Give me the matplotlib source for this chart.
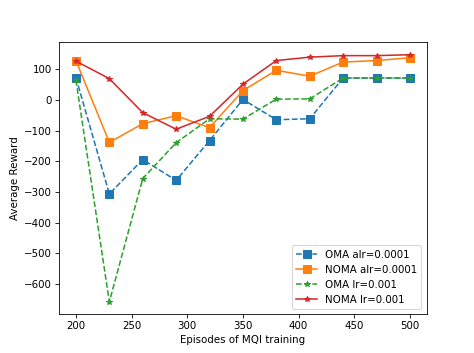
import matplotlib
matplotlib.use('Agg')
import matplotlib.pyplot as plt
import numpy as np

episodes = [200, 230, 260, 290, 320, 350, 380, 410, 440, 470, 500]
oma_alr = [73, -306, -194, -262, -132, 2, -64, -61, 72, 72, 72]
noma_alr = [129, -138, -77, -51, -90, 31, 97, 78, 124, 129, 138]
oma_lr = [65, -658, -256, -139, -61, -62, 3, 4, 72, 72, 72]
noma_lr = [127, 70, -41, -95, -53, 52, 129, 140, 145, 145, 148]

fig = plt.figure(figsize=(474 / 74, 353 / 74), dpi=74)
ax = fig.add_subplot(111)

ax.plot(episodes, oma_alr, '--s', markersize=7, label='OMA alr=0.0001')
ax.plot(episodes, noma_alr, '-s', markersize=7, label='NOMA alr=0.0001')
ax.plot(episodes, oma_lr, '--*', label='OMA lr=0.001')
ax.plot(episodes, noma_lr, '-*', label='NOMA lr=0.001')

ax.set_xlabel('Episodes of MQI training')
ax.set_ylabel('Average Reward')
ax.legend(loc='lower right')

fig.savefig('out.png', dpi=74)
